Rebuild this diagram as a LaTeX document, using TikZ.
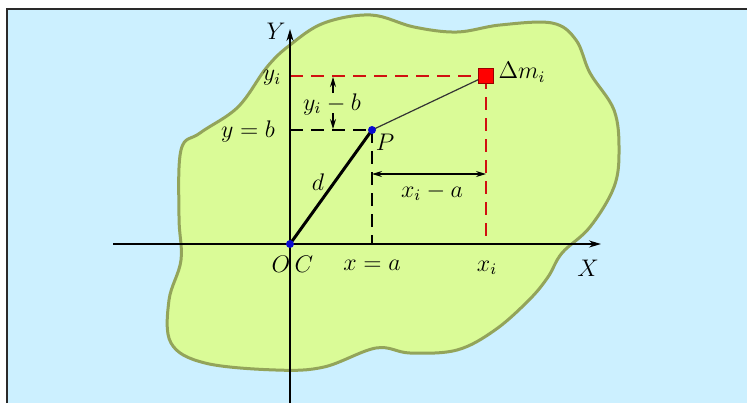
\documentclass[tikz,border=0pt]{standalone}
\usepackage{amsmath,amssymb}
\usepackage{xcolor}
\usetikzlibrary{arrows.meta,positioning,calc}
\definecolor{sky}{HTML}{CCF0FF}
\definecolor{frameink}{HTML}{2A2A2A}
\definecolor{lime}{HTML}{DAFB97}
\definecolor{olive}{HTML}{93A45A}
\definecolor{mred}{HTML}{FF0000}
\definecolor{dred}{HTML}{D01010}
\definecolor{dotblue}{HTML}{0A0AD0}
\tikzset{
  body/.style={draw=olive, line width=1.5pt, fill=lime},
  axis/.style={-{Stealth[length=6pt,width=3.5pt]}, line width=0.7pt},
  dimarrow/.style={-{Stealth[length=5pt,width=3pt]}, line width=0.6pt},
  blackdash/.style={line width=0.6pt, dash pattern=on 6.5pt off 4pt},
  reddash/.style={draw=dred, line width=0.6pt, dash pattern=on 6.5pt off 4pt},
  dot/.style={circle, fill=dotblue, inner sep=0pt, minimum size=4pt},
  mass/.style={draw=red!60!black, fill=mred, line width=0.5pt, inner sep=0pt, minimum size=7.5pt},
  lbl/.style={font=\large, inner sep=1pt}
}
\begin{document}
\begin{tikzpicture}[x=0.5pt,y=-0.5pt]
\useasboundingbox (0,0) rectangle (747,403);
\fill[white] (0,0) rectangle (747,403);
\fill[sky] (7,9) rectangle (747,403);
\draw[frameink, line width=1pt] (7,403) -- (7,9) -- (747,9);
\draw[body] plot[smooth cycle, tension=0.6] coordinates {(290,45) (324,23) (371,15) (414,27) (457,32) (500,25) (552,23) (576,40) (590,73) (614,110) (619,150) (614,187) (590,227) (562,253) (548,277) (529,300) (495,330) (457,350) (410,353) (376,348) (324,367) (276,370) (205,363) (171,343) (169,300) (181,260) (179,217) (181,150) (200,133) (238,107) (267,67)};
\coordinate (O) at (290,244);
\coordinate (Pc) at (372,130);
\coordinate (mi) at (486,76);
\coordinate (xl) at (113,244); \coordinate (xr) at (601,244);
\coordinate (yb) at (290,403); \coordinate (yt) at (290,29);
\coordinate (yi) at (290,76); \coordinate (yb0) at (290,130);
\coordinate (xa) at (372,244); \coordinate (xi) at (486,244);
\coordinate (dl) at (372,174); \coordinate (dr) at (486,174);
\coordinate (up0) at (333,93); \coordinate (up1) at (333,77);
\coordinate (dn0) at (333,113); \coordinate (dn1) at (333,129);
\draw[reddash] (yi) -- (mi); \draw[reddash] (mi) -- (xi);
\draw[blackdash] (yb0) -- (Pc); \draw[blackdash] (Pc) -- (xa);
\draw[axis] (xl) -- (xr); \draw[axis] (yb) -- (yt);
\draw[line width=1.5pt] (O) -- (Pc);
\draw[line width=0.6pt, black!80] (Pc) -- (mi);
\draw[dimarrow, {Stealth[length=5pt,width=3pt]}-{Stealth[length=5pt,width=3pt]}] (dl) -- (dr);
\draw[dimarrow] (up0) -- (up1); \draw[dimarrow] (dn0) -- (dn1);
\node[dot] (o) at (O) {};
\node[dot] (P) at (Pc) {};
\node[mass] (m) at (mi) {};
\node[lbl] (lY) at (276,31) {$Y$};
\node[lbl] (lX) at (588,268) {$X$};
\node[lbl] (lyi) at (272,78) {$y_i$};
\node[lbl] (lyb) at (248,131) {$y=b$};
\node[lbl] (ldy) at (332,104) {$y_i-b$};
\node[lbl] (lP) at (385,142) {$P$};
\node[lbl] (ld) at (318,182) {$d$};
\node[lbl] (ldx) at (432,192) {$x_i-a$};
\node[lbl] (lm) at (522,72) {$\Delta m_i$};
\node[lbl] (lO) at (281,264) {$O$};
\node[lbl] (lC) at (304,264) {$C$};
\node[lbl] (lxa) at (372,265) {$x=a$};
\node[lbl] (lxi) at (487,268) {$x_i$};
\end{tikzpicture}
\end{document}
